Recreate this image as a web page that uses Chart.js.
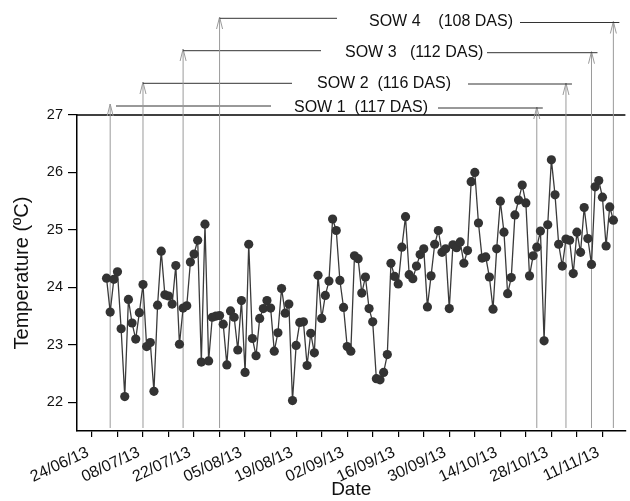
<!DOCTYPE html>
<html>
<head>
<meta charset="utf-8">
<script src="https://cdn.jsdelivr.net/npm/chart.js@4.4.1/dist/chart.umd.min.js"></script>
<style>
  html, body { margin: 0; padding: 0; background: #fff; }
  #wrap { width: 630px; height: 501px; position: relative; }
</style>
</head>
<body>
<div id="wrap"><canvas id="c" width="630" height="501"></canvas></div>
<script>
// ---- data ----
const axisOrigin = '24/06/13';      // first labelled tick
const firstObservation = '28/06/13'; // first daily reading
const temps = [
  24.16, 23.57, 24.14, 24.27, 23.28, 22.10, 23.79, 23.38, 23.10, 23.56,
  24.05, 22.97, 23.04, 22.19, 23.69, 24.63, 23.87, 23.85, 23.71, 24.38,
  23.01, 23.64, 23.68, 24.44, 24.58, 24.82, 22.70, 25.10, 22.72, 23.48,
  23.50, 23.51, 23.36, 22.65, 23.59, 23.48, 22.91, 23.77, 22.52, 24.75,
  23.11, 22.81, 23.46, 23.63, 23.77, 23.64, 22.89, 23.21, 23.98, 23.55,
  23.71, 22.03, 22.99, 23.39, 23.40, 22.64, 23.20, 22.86, 24.21, 23.46,
  23.86, 24.11, 25.19, 24.99, 24.12, 23.65, 22.97, 22.89, 24.55, 24.50,
  23.90, 24.18, 23.63, 23.40, 22.41, 22.39, 22.52, 22.83, 24.42, 24.19,
  24.06, 24.70, 25.23, 24.22, 24.15, 24.37, 24.57, 24.67, 23.66, 24.20,
  24.75, 24.99, 24.61, 24.67, 23.63, 24.74, 24.69, 24.79, 24.42, 24.64,
  25.84, 26.00, 25.12, 24.51, 24.53, 24.18, 23.62, 24.67, 25.50, 24.96,
  23.89, 24.17, 25.26, 25.52, 25.78, 25.47, 24.20, 24.55, 24.70, 24.98,
  23.07, 25.09, 26.22, 25.61, 24.75, 24.37, 24.84, 24.82, 24.24, 24.96,
  24.61, 25.39, 24.85, 24.40, 25.75, 25.86, 25.57, 24.72, 25.40, 25.17
];
const tickLabels = ['24/06/13','08/07/13','22/07/13','05/08/13','19/08/13','02/09/13',
                    '16/09/13','30/09/13','14/10/13','28/10/13','11/11/13'];
const yTickValues = [22, 23, 24, 25, 26, 27];
const sowDates = ['29/06/13','08/07/13','19/07/13','29/07/13'];
const sowDAS = [117, 116, 112, 108];
const sowLabels = ['SOW 1  (117 DAS)', 'SOW 2  (116 DAS)', 'SOW 3   (112 DAS)', 'SOW 4    (108 DAS)'];

// ---- helpers ----
function parseDMY(s) { const [d, m, y] = s.split('/').map(Number); return Date.UTC(2000 + y, m - 1, d); }
function dayOffset(s) { return Math.round((parseDMY(s) - parseDMY(axisOrigin)) / 86400000); }

const startDay = dayOffset(firstObservation);
const points = temps.map((t, i) => ({ x: startDay + i, y: t }));
const labelDays = tickLabels.map(dayOffset);
const tickDays = [];
labelDays.forEach((d, i) => { tickDays.push(d); if (i < labelDays.length - 1) tickDays.push(d + 7); });

const FONT = "'Liberation Sans', Arial, sans-serif";

// annotation layout (pixel placement of the bracket texts)
const sowLayout = [
  { tipL: 104, lineL: 106, lineR: 108, textX: 294, textY: 107.5, endL: 271, startR: 438, startL: 116 },
  { tipL: 82,  lineL: 83.3, lineR: 84, textX: 317, textY: 83.5, endL: 292, startR: 468, startL: 0 },
  { tipL: 49,  lineL: 50.7, lineR: 52.7, textX: 345, textY: 52.5, endL: 321, startR: 487, startL: 0 },
  { tipL: 17,  lineL: 18.3, lineR: 22.5, textX: 369, textY: 21.7, endL: 337, startR: 520, startL: 0 }
];

function arrowUp(ctx, x, yTop, yBottom) {
  ctx.beginPath();
  ctx.moveTo(x, yBottom);
  ctx.lineTo(x, yTop);
  ctx.stroke();
  ctx.beginPath();
  ctx.moveTo(x - 3, yTop + 12);
  ctx.lineTo(x, yTop);
  ctx.lineTo(x + 3, yTop + 12);
  ctx.stroke();
}

const sowPlugin = {
  id: 'sowPlugin',
  beforeDatasetsDraw(chart) {
    const ctx = chart.ctx;
    const xs = chart.scales.x;
    const ys = chart.scales.y;
    const area = chart.chartArea;
    ctx.save();
    // top border line at 27
    ctx.strokeStyle = '#000';
    ctx.lineWidth = 1.3;
    const yTop = ys.getPixelForValue(27);
    ctx.beginPath();
    ctx.moveTo(area.left, yTop);
    ctx.lineTo(area.right, yTop);
    ctx.stroke();

    const bottom = area.bottom - 3;
    sowDates.forEach((sd, i) => {
      const L = sowLayout[i];
      const d0 = dayOffset(sd);
      const xL = xs.getPixelForValue(d0);
      const xR = xs.getPixelForValue(d0 + sowDAS[i]);
      ctx.strokeStyle = '#9a9a9a';
      ctx.lineWidth = 1;
      arrowUp(ctx, xL, L.tipL, bottom);
      arrowUp(ctx, xR, L.lineR - 1, bottom);
      ctx.strokeStyle = '#333';
      ctx.lineWidth = 1;
      ctx.beginPath();
      ctx.moveTo(L.startL || xL, L.lineL);
      ctx.lineTo(L.endL, L.lineL);
      ctx.stroke();
      ctx.beginPath();
      ctx.moveTo(L.startR, L.lineR);
      ctx.lineTo(xR + 6, L.lineR);
      ctx.stroke();
      ctx.fillStyle = '#111';
      ctx.font = '16px ' + FONT;
      ctx.textAlign = 'left';
      ctx.textBaseline = 'middle';
      ctx.fillText(sowLabels[i], L.textX, L.textY);
    });
    ctx.restore();
  }
};

new Chart(document.getElementById('c'), {
  type: 'line',
  data: {
    datasets: [{
      data: points,
      borderColor: '#3a3a3a',
      borderWidth: 1.3,
      pointBackgroundColor: '#333',
      pointBorderColor: '#333',
      pointBorderWidth: 0,
      pointRadius: 4.6,
      tension: 0,
      fill: false
    }]
  },
  options: {
    responsive: false,
    animation: false,
    events: [],
    layout: { padding: { top: 115, left: 0, right: 0, bottom: 0 } },
    plugins: { legend: { display: false }, tooltip: { enabled: false } },
    scales: {
      x: {
        type: 'linear',
        min: -4.1,
        max: 146.3,
        afterBuildTicks(scale) { scale.ticks = tickDays.map(v => ({ value: v })); },
        afterFit(scale) { scale.height = 70; },
        ticks: {
          autoSkip: false,
          minRotation: 25,
          maxRotation: 25,
          padding: 6,
          labelOffset: -4,
          color: '#111',
          font: { family: FONT, size: 16 },
          callback(value) {
            const k = labelDays.indexOf(value);
            return k >= 0 ? tickLabels[k] : '';
          }
        },
        grid: { drawOnChartArea: false, drawTicks: true, tickLength: 6, color: '#000', lineWidth: 1.2 },
        border: { display: true, color: '#000', width: 1.5 },
        title: { display: true, text: 'Date', color: '#111', font: { family: FONT, size: 19 }, padding: { top: 0, bottom: 0 } }
      },
      y: {
        type: 'linear',
        min: 21.5,
        max: 27,
        afterBuildTicks(scale) { scale.ticks = yTickValues.map(v => ({ value: v })); },
        afterFit(scale) { scale.width = 77; },
        ticks: { color: '#111', padding: 5, font: { family: FONT, size: 14.5 } },
        grid: { drawOnChartArea: false, drawTicks: true, tickLength: 9, color: '#000', lineWidth: 1.2 },
        border: { display: true, color: '#000', width: 1.5 },
        title: { display: true, text: 'Temperature (ºC)', color: '#111', font: { family: FONT, size: 20 }, padding: { top: 10, bottom: 0 } }
      }
    }
  },
  plugins: [sowPlugin]
});
</script>
</body>
</html>
